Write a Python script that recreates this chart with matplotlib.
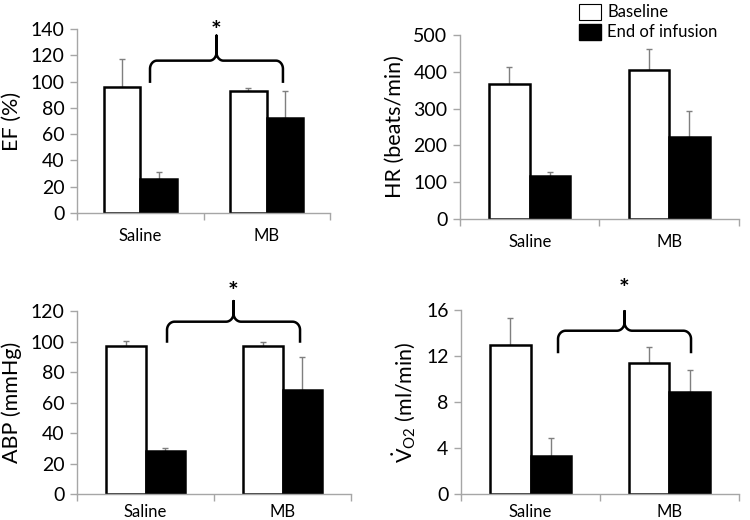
import numpy as np
import matplotlib
matplotlib.use('Agg')
import matplotlib.pyplot as plt
from matplotlib.patches import Patch

plt.rcParams['font.family'] = ['Lato', 'DejaVu Sans']
plt.rcParams['mathtext.fontset'] = 'custom'
plt.rcParams['mathtext.rm'] = 'Lato'
plt.rcParams['mathtext.it'] = 'Lato:italic'

groups = ['Saline', 'MB']

ef_base = [96, 93]
ef_base_sd = [21, 2]
ef_end = [26, 72]
ef_end_sd = [5, 21]

hr_base = [368, 404]
hr_base_sd = [45, 57]
hr_end = [117, 222]
hr_end_sd = [11, 71]

abp_base = [97, 97]
abp_base_sd = [3.5, 2.5]
abp_end = [28, 68]
abp_end_sd = [2, 22]

vo2_base = [13.0, 11.4]
vo2_base_sd = [2.3, 1.4]
vo2_end = [3.3, 8.9]
vo2_end_sd = [1.6, 1.9]

GRAY = '#a6a6a6'
W = 0.29


def bar_panel(rect, base, base_sd, end, end_sd, ymax, step, ylabel, xpad):
    ax = fig.add_axes(rect)
    x = np.arange(len(groups))
    ax.bar(x - W/2, base, W, color='white', edgecolor='black', linewidth=1.8, zorder=2)
    ax.bar(x + W/2, end, W, color='black', edgecolor='black', linewidth=1.8, zorder=2)
    ax.errorbar(x - W/2, base, yerr=[np.zeros(2), base_sd], fmt='none',
                ecolor='#7f7f7f', elinewidth=1, capsize=2.2, zorder=1)
    ax.errorbar(x + W/2, end, yerr=[np.zeros(2), end_sd], fmt='none',
                ecolor='#7f7f7f', elinewidth=1, capsize=2.2, zorder=1)
    ax.set_xlim(-0.5, 1.5)
    ax.set_ylim(0, ymax)
    ax.set_yticks(np.arange(0, ymax + step/2, step))
    ax.set_xticks(x)
    ax.set_xticklabels(groups, fontsize=12)
    ax.set_xticks([-0.5, 0.5, 1.5], minor=True)
    ax.tick_params(axis='x', which='major', length=0, pad=xpad)
    ax.tick_params(axis='x', which='minor', length=5, color=GRAY, width=1)
    ax.tick_params(axis='y', length=5, color=GRAY, width=1, labelsize=14, pad=4)
    for s in ['top', 'right']:
        ax.spines[s].set_visible(False)
    for s in ['left', 'bottom']:
        ax.spines[s].set_color(GRAY)
        ax.spines[s].set_linewidth(1)
    ax.set_ylabel(ylabel, fontsize=15.5, labelpad=6)
    return ax


def brace(ax, x0, x1, y_end, y_h, y_apex, y_star):
    ymax = ax.get_ylim()[1]
    rx = 0.055
    ry = 0.045 * ymax
    xm = (x0 + x1) / 2
    px, py = [], []

    def arc(cx, cy, t0, t1):
        t = np.radians(np.linspace(t0, t1, 20))
        px.extend(cx + rx*np.cos(t))
        py.extend(cy + ry*np.sin(t))

    px.append(x0); py.append(y_end)
    arc(x0 + rx, y_h - ry, 180, 90)
    arc(xm - rx, y_h + ry, -90, 0)
    px.append(xm); py.append(y_apex)
    arc(xm + rx, y_h + ry, 180, 270)
    arc(x1 - rx, y_h - ry, 90, 0)
    px.append(x1); py.append(y_end)
    ax.plot(px, py, color='black', linewidth=1.8, clip_on=False, zorder=4)
    ax.text(xm, y_star, '*', ha='center', va='center', fontsize=18, fontweight='bold',
            clip_on=False)


fig = plt.figure(figsize=(7.5, 5.2), dpi=100)

ax1 = bar_panel([0.1027, 0.5904, 0.3373, 0.3536], ef_base, ef_base_sd, ef_end, ef_end_sd,
                140, 20, 'EF (%)', 11)
brace(ax1, 0.077, 1.128, 100, 116, 135, 138)

ax2 = bar_panel([0.6133, 0.5788, 0.372, 0.3539], hr_base, hr_base_sd, hr_end, hr_end_sd,
                500, 100, 'HR (beats/min)', 11)

ax3 = bar_panel([0.1027, 0.05, 0.3653, 0.3519], abp_base, abp_base_sd, abp_end, abp_end_sd,
                120, 20, 'ABP (mmHg)', 7)
brace(ax3, 0.157, 1.128, 100, 113, 126.5, 132)

ax4 = bar_panel([0.6147, 0.05, 0.3706, 0.3538], vo2_base, vo2_base_sd, vo2_end, vo2_end_sd,
                16, 4, r'$\dot{\mathrm{V}}_{\mathrm{O2}}$ (ml/min)', 7)
brace(ax4, 0.198, 1.155, 12.35, 14.2, 15.9, 17.8)

handles = [Patch(facecolor='white', edgecolor='black', linewidth=0.8, label='Baseline'),
           Patch(facecolor='black', edgecolor='black', label='End of infusion')]
fig.legend(handles=handles, loc='upper left', bbox_to_anchor=(0.772, 0.993), frameon=False,
           fontsize=12, borderpad=0, borderaxespad=0, handlelength=1.3, handleheight=1.1,
           handletextpad=0.4, labelspacing=0.2)

fig.savefig('out.png', dpi=100)
